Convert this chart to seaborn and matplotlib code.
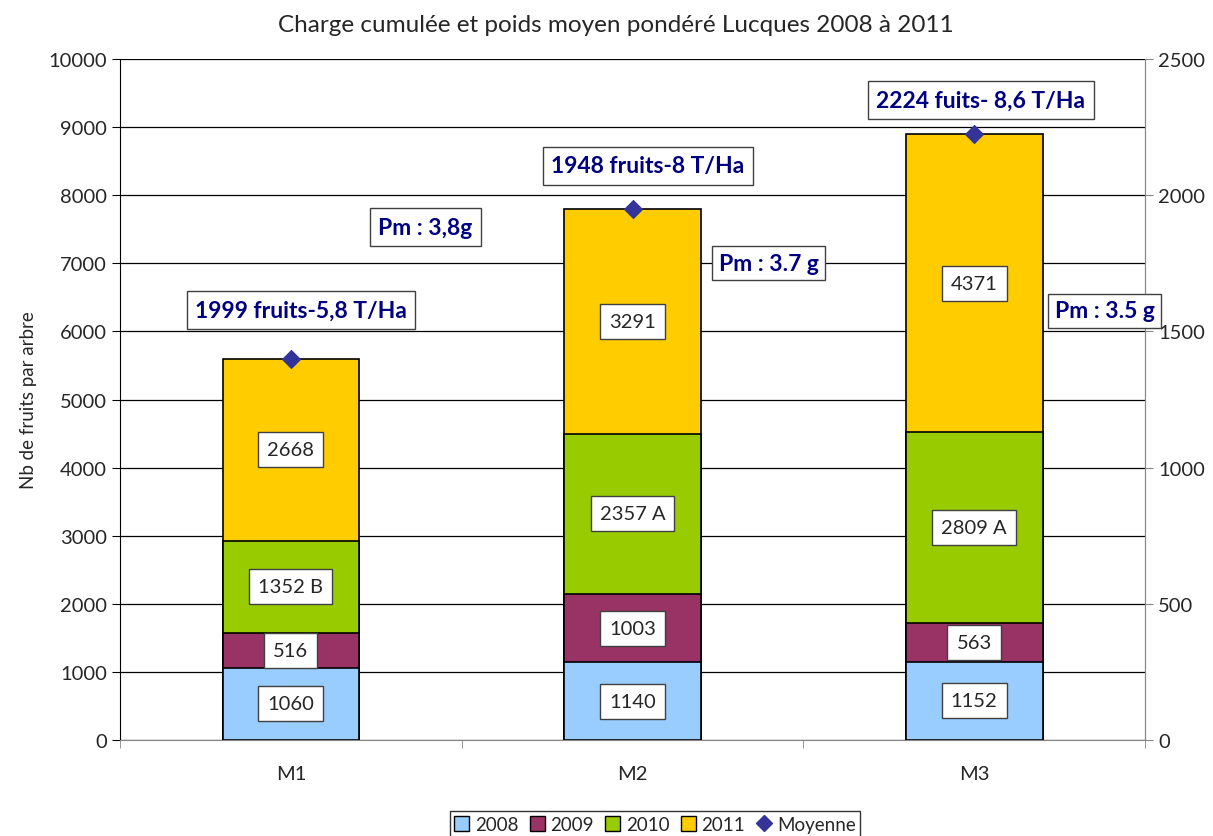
import numpy as np
import pandas as pd
import matplotlib
matplotlib.use('Agg')
import matplotlib.pyplot as plt
from matplotlib.lines import Line2D
from matplotlib.patches import Patch
from matplotlib.ticker import MultipleLocator, FixedLocator, NullFormatter
import seaborn as sns

modalites = ['M1', 'M2', 'M3']
annees = ['2008', '2009', '2010', '2011']
v2008 = [1060, 1140, 1152]
v2009 = [516, 1003, 563]
v2010 = [1352, 2357, 2809]
v2011 = [2668, 3291, 4371]
lab2010 = ['1352 B', '2357 A', '2809 A']
moyenne = [1399, 1948, 2224]

couleurs = ['#99CCFF', '#993366', '#99CC00', '#FFCC00']

sns.set_style('white')
plt.rcParams['font.family'] = ['Lato', 'DejaVu Sans']

fig = plt.figure(figsize=(12.13, 8.37), dpi=100)
ax = fig.add_axes([120 / 1213, 1 - 741 / 837, (1145 - 120) / 1213, (741 - 60) / 837])

series = [v2008, v2009, v2010, v2011]
cum = np.cumsum(np.array(series), axis=0)

# stacked bars: draw from the total down
for i in range(3, -1, -1):
    df = pd.DataFrame({'mod': modalites, 'val': cum[i]})
    sns.barplot(data=df, x='mod', y='val', color=couleurs[i], width=0.4,
                edgecolor='black', linewidth=1.2, saturation=1, ax=ax, zorder=2)

# data labels
for i in range(4):
    for j in range(3):
        bas = cum[i - 1][j] if i > 0 else 0
        txt = lab2010[j] if i == 2 else str(series[i][j])
        ax.text(j, bas + series[i][j] / 2, txt, ha='center', va='center', fontsize=14.5,
                zorder=5, bbox=dict(boxstyle='square,pad=0.45', fc='white', ec='#404040', lw=1))

ax.set_xlim(-0.5, 2.5)
ax.set_ylim(0, 10000)
ax.yaxis.set_major_locator(MultipleLocator(1000))
ax.grid(axis='y', color='black', lw=0.9)
ax.set_axisbelow(True)
ax.set_xlabel('')
ax.set_ylabel('Nb de fruits par arbre', fontsize=13.5, labelpad=8)
ax.tick_params(axis='y', labelsize=14.5, length=6, direction='out', left=True, color='black')
ax.tick_params(axis='x', which='major', labelsize=14.5, length=0, pad=18)
ax.xaxis.set_minor_locator(FixedLocator([-0.5, 0.5, 1.5, 2.5]))
ax.xaxis.set_minor_formatter(NullFormatter())
ax.tick_params(axis='x', which='minor', length=6, direction='out', bottom=True, color='#868686')
ax.spines['top'].set_visible(False)
ax.spines['left'].set_color('black')
ax.spines['bottom'].set_color('#868686')
ax.spines['right'].set_color('#868686')

ax2 = ax.twinx()
sns.scatterplot(x=[0, 1, 2], y=moyenne, marker='D', s=85, color='#333399',
                edgecolor='#333399', ax=ax2, zorder=6)
ax2.set_ylim(0, 2500)
ax2.yaxis.set_major_locator(MultipleLocator(500))
ax2.tick_params(axis='y', labelsize=14.5, length=6, direction='out', right=True, color='#868686')
ax2.spines['top'].set_visible(False)
ax2.spines['left'].set_visible(False)
ax2.spines['bottom'].set_visible(False)
ax2.spines['right'].set_color('#868686')
ax2.set_xlim(-0.5, 2.5)

# annotations
notes = [(0.03, 6314, '1999 fruits-5,8 T/Ha', 0.35), (0.394, 7533, 'Pm : 3,8g', 0.35),
         (1.045, 8429, '1948 fruits-8 T/Ha', 0.35), (1.398, 7004, 'Pm : 3.7 g', 0.3),
         (2.02, 9398, '2224 fuits- 8,6 T/Ha', 0.35), (2.382, 6300, 'Pm : 3.5 g', 0.3)]
for x, y, t, p in notes:
    ax2.text(x, y / 4, t, ha='center', va='center', fontsize=16.5, fontweight='bold',
             color='#000080', zorder=7,
             bbox=dict(boxstyle='square,pad=%s' % p, fc='white', ec='#404040', lw=1))

fig.text(616 / 1213, 1 - 26 / 837, 'Charge cumulée et poids moyen pondéré Lucques 2008 à 2011',
         ha='center', va='center', fontsize=17.5)

handles = [Patch(fc=c, ec='black', lw=1) for c in couleurs]
handles.append(Line2D([], [], marker='D', ls='none', color='#333399', markersize=8))
leg = fig.legend(handles, annees + ['Moyenne'], loc='upper center',
                 bbox_to_anchor=(655 / 1213, 1 - 803 / 837), ncol=5, fontsize=13.5,
                 frameon=True, fancybox=False, edgecolor='black', handlelength=0.8,
                 handleheight=0.8, handletextpad=0.3, columnspacing=0.6, borderpad=0.25)
leg.get_frame().set_linewidth(1)

fig.savefig('out.png', dpi=100)
